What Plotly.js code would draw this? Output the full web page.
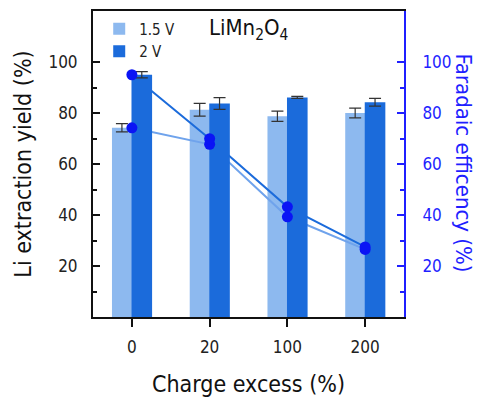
<!DOCTYPE html>
<html>
<head>
<meta charset="utf-8">
<script src="https://cdn.plot.ly/plotly-3.0.1.min.js"></script>
<style>html,body{margin:0;padding:0;background:#fff}#chart{width:479px;height:399px}</style>
</head>
<body>
<div id="chart"></div>
<script>
// Data
const categories = ["0", "20", "100", "200"];
const yield15 = [74.2, 81.3, 78.7, 80.0];
const yield15Err = [1.6, 2.5, 2.0, 1.9];
const yield2 = [95.0, 83.7, 86.1, 84.2];
const yield2Err = [1.2, 2.3, 0.4, 1.5];
const fe15 = [74.2, 67.7, 39.3, 26.5];
const fe2 = [95.0, 69.9, 43.2, 27.5];
const seriesNames = ["1.5 V", "2 V"];

const FONT = '"DejaVu Sans Condensed", "DejaVu Sans", sans-serif';
const LIGHT = '#8db9ef';
const DARK = '#1b6bdb';
const MARK = '#0a14f5';
const RBLUE = '#1f1fff';

const traces = [
  {
    type: 'bar', name: seriesNames[0], x: categories, y: yield15,
    xaxis: 'x', yaxis: 'y', offset: -0.256, width: 0.256,
    marker: {color: LIGHT},
    error_y: {type: 'data', array: yield15Err, visible: true, color: '#333', thickness: 1.2, width: 6}
  },
  {
    type: 'scatter', mode: 'lines', x: categories, y: fe15, xaxis: 'x', yaxis: 'y',
    line: {color: '#6fa3ec', width: 2}, showlegend: false, hoverinfo: 'skip'
  },
  {
    type: 'scatter', mode: 'lines', x: categories, y: fe2, xaxis: 'x', yaxis: 'y',
    line: {color: DARK, width: 2}, showlegend: false, hoverinfo: 'skip'
  },
  {
    type: 'bar', name: seriesNames[1], x: categories, y: yield2,
    xaxis: 'x', yaxis: 'y2', offset: -0.005, width: 0.265,
    marker: {color: DARK},
    error_y: {type: 'data', array: yield2Err, visible: true, color: '#333', thickness: 1.2, width: 6}
  },
  {
    type: 'scatter', mode: 'markers', x: categories, y: fe15, xaxis: 'x', yaxis: 'y3',
    marker: {color: MARK, size: 11}, showlegend: false
  },
  {
    type: 'scatter', mode: 'markers', x: categories, y: fe2, xaxis: 'x', yaxis: 'y3',
    marker: {color: MARK, size: 11}, showlegend: false
  }
];

const layout = {
  width: 479, height: 399,
  margin: {l: 93, r: 75, t: 11, b: 82, pad: 0},
  paper_bgcolor: '#fff', plot_bgcolor: '#fff',
  font: {family: FONT, color: '#111', size: 17},
  showlegend: true,
  legend: {
    x: 0.02, y: 0.995, xanchor: 'left', yanchor: 'top',
    font: {family: FONT, size: 15, color: '#222'},
    bgcolor: 'rgba(0,0,0,0)', tracegroupgap: 0, itemwidth: 30
  },
  xaxis: {
    type: 'category', range: [-0.5, 3.5],
    showline: true, linecolor: '#111', linewidth: 2, mirror: true,
    ticks: 'outside', ticklen: 8, tickwidth: 2, tickcolor: '#111',
    showgrid: false, zeroline: false,
    tickfont: {family: FONT, size: 17, color: '#222'},
    ticklabelstandoff: 6,
    title: {text: 'Charge excess (%)', font: {family: FONT, size: 23, color: '#111'}, standoff: 19}
  },
  yaxis: {
    range: [0, 120], tickvals: [20, 40, 60, 80, 100],
    showline: true, linecolor: '#111', linewidth: 2,
    ticks: 'inside', ticklen: 7, tickwidth: 2, tickcolor: '#111',
    minor: {tickvals: [10, 30, 50, 70, 90], ticks: 'inside', ticklen: 4, tickwidth: 2, tickcolor: '#111'},
    showgrid: false, zeroline: false,
    tickfont: {family: FONT, size: 17, color: '#222'},
    ticklabelstandoff: 10,
    title: {text: 'Li extraction yield (%)', font: {family: FONT, size: 23, color: '#111'}, standoff: 10}
  },
  yaxis2: {
    overlaying: 'y', range: [0, 120], visible: false
  },
  yaxis3: {
    overlaying: 'y', side: 'right', range: [0, 120], tickvals: [20, 40, 60, 80, 100],
    showline: true, linecolor: RBLUE, linewidth: 2,
    ticks: 'inside', ticklen: 7, tickwidth: 2, tickcolor: RBLUE,
    minor: {tickvals: [10, 30, 50, 70, 90], ticks: 'inside', ticklen: 4, tickwidth: 2, tickcolor: RBLUE},
    showgrid: false, zeroline: false,
    tickfont: {family: FONT, size: 17, color: RBLUE},
    ticklabelstandoff: 13
  },
  annotations: [
    {
      xref: 'paper', yref: 'paper', x: 0.365, y: 0.94, xanchor: 'left', yanchor: 'middle',
      text: 'LiMn<sub>2</sub>O<sub>4</sub>', showarrow: false,
      font: {family: FONT, size: 22, color: '#111'}
    },
    {
      xref: 'paper', yref: 'paper', x: 1.19, y: 0.505, xanchor: 'center', yanchor: 'middle',
      text: 'Faradaic efficency (%)', textangle: 90, showarrow: false,
      font: {family: FONT, size: 22, color: RBLUE}
    }
  ]
};

Plotly.newPlot('chart', traces, layout, {displayModeBar: false, staticPlot: true});
</script>
</body>
</html>
